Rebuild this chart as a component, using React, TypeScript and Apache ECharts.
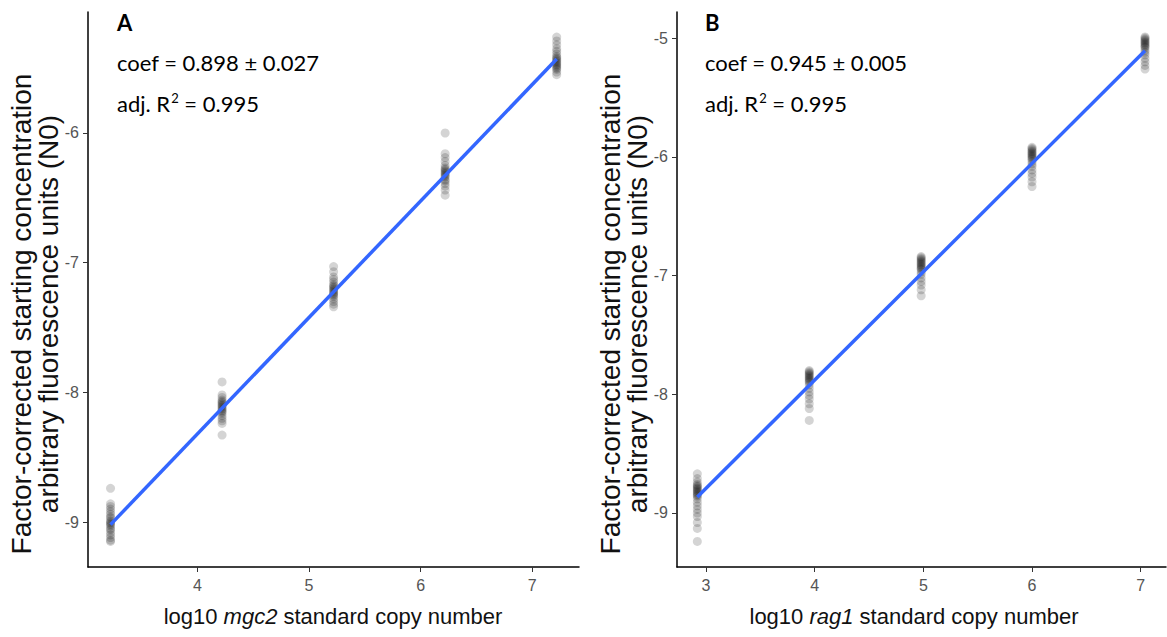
import React, { useEffect, useRef } from "react";
import * as echarts from "echarts";

// Panel A: log10 mgc2 standard copy number
const xA = [3.22, 4.22, 5.22, 6.22, 7.22];
const a1 = [-8.74, -8.86, -8.88, -8.9, -8.92, -8.94, -8.96, -8.97, -8.99, -9.0, -9.01, -9.02, -9.03, -9.05, -9.06, -9.08, -9.1, -9.12, -9.14, -9.15];
const a2 = [-7.92, -8.02, -8.04, -8.06, -8.07, -8.08, -8.09, -8.1, -8.11, -8.12, -8.13, -8.14, -8.15, -8.16, -8.18, -8.2, -8.22, -8.24, -8.33];
const a3 = [-7.03, -7.07, -7.11, -7.13, -7.15, -7.17, -7.18, -7.19, -7.2, -7.21, -7.22, -7.23, -7.24, -7.25, -7.26, -7.28, -7.3, -7.32, -7.34];
const a4 = [-6.0, -6.16, -6.19, -6.22, -6.25, -6.27, -6.28, -6.29, -6.3, -6.31, -6.32, -6.33, -6.34, -6.36, -6.37, -6.39, -6.41, -6.44, -6.48];
const a5 = [-5.26, -5.29, -5.32, -5.35, -5.37, -5.39, -5.41, -5.42, -5.43, -5.44, -5.45, -5.46, -5.47, -5.48, -5.49, -5.5, -5.51, -5.53, -5.55];
const fitA = [[3.22, -9.02], [7.22, -5.43]];

// Panel B: log10 rag1 standard copy number
const xB = [2.92, 3.95, 4.98, 6.0, 7.04];
const b1 = [-8.67, -8.71, -8.74, -8.76, -8.77, -8.78, -8.79, -8.8, -8.81, -8.82, -8.83, -8.84, -8.85, -8.86, -8.88, -8.91, -8.94, -8.97, -9.0, -9.03, -9.08, -9.13, -9.24];
const b2 = [-7.8, -7.81, -7.82, -7.83, -7.84, -7.85, -7.86, -7.87, -7.88, -7.89, -7.9, -7.92, -7.95, -7.98, -8.01, -8.04, -8.08, -8.12, -8.22];
const b3 = [-6.84, -6.85, -6.86, -6.87, -6.88, -6.89, -6.9, -6.91, -6.92, -6.93, -6.94, -6.95, -6.97, -6.99, -7.02, -7.05, -7.08, -7.12, -7.17];
const b4 = [-5.92, -5.93, -5.94, -5.95, -5.96, -5.97, -5.98, -5.99, -6.0, -6.01, -6.02, -6.04, -6.06, -6.08, -6.11, -6.14, -6.17, -6.21, -6.25];
const b5 = [-4.99, -5.0, -5.01, -5.02, -5.03, -5.04, -5.05, -5.06, -5.07, -5.08, -5.1, -5.12, -5.14, -5.17, -5.2, -5.23, -5.26];
const fitB = [[2.92, -8.865], [7.04, -5.107]];

const xTicksA = [4, 5, 6, 7];
const yTicksA = [-9, -8, -7, -6];
const xTicksB = [3, 4, 5, 6, 7];
const yTicksB = [-9, -8, -7, -6, -5];

const yTitle = "Factor-corrected starting concentration\narbitrary fluorescence units (N0)";
const labelsA = { panel: "A", coef: "coef = 0.898 ± 0.027", r2: "0.995", gene: "mgc2" };
const labelsB = { panel: "B", coef: "coef = 0.945 ± 0.005", r2: "0.995", gene: "rag1" };

const AX = "Liberation Sans, Arial, sans-serif";
const ANN = "Lato, Open Sans, sans-serif";

function pts(xs: number[], groups: number[][]) {
  const out: number[][] = [];
  groups.forEach((g, i) => g.forEach((v) => out.push([xs[i], v])));
  return out;
}

function xAxisCfg(grid: number, min: number, max: number, ticks: number[]) {
  return {
    type: "value",
    gridIndex: grid,
    min,
    max,
    splitLine: { show: false },
    axisLine: { show: true, onZero: false, lineStyle: { color: "#000", width: 1.5 } },
    axisTick: { show: true, length: 5, customValues: ticks, lineStyle: { color: "#333", width: 1 } },
    axisLabel: { customValues: ticks, fontSize: 16, color: "#555", margin: 10, fontFamily: AX },
  };
}
function yAxisCfg(grid: number, min: number, max: number, ticks: number[]) {
  return {
    type: "value",
    gridIndex: grid,
    min,
    max,
    splitLine: { show: false },
    axisLine: { show: true, onZero: false, lineStyle: { color: "#000", width: 1.5 } },
    axisTick: { show: true, length: 5, customValues: ticks, lineStyle: { color: "#333", width: 1 } },
    axisLabel: { customValues: ticks, fontSize: 16, color: "#555", margin: 9, fontFamily: AX },
  };
}

function annot(left: number, l: typeof labelsA) {
  return [
    { type: "text", left, top: 11, style: { text: l.panel, font: "bold 22px " + ANN, fill: "#000" } },
    { type: "text", left, top: 51, style: { text: l.coef, font: "22px " + ANN, fill: "#000" } },
    {
      type: "text",
      left,
      top: 86,
      style: {
        text: "{t|adj. R}{s|2}{t| = " + l.r2 + "}",
        fill: "#000",
        rich: {
          t: { fontSize: 22, fontFamily: ANN, lineHeight: 28, verticalAlign: "bottom" },
          s: { fontSize: 13, fontFamily: ANN, lineHeight: 28, verticalAlign: "top", padding: [5, 0, 0, 1] },
        },
      },
    },
  ];
}

function xTitle(cx: number, gene: string) {
  return {
    type: "text",
    x: cx,
    y: 616,
    style: {
      text: "{n|log10 }{i|" + gene + "}{n| standard copy number}",
      align: "center",
      verticalAlign: "middle",
      fill: "#111",
      rich: {
        n: { fontSize: 22, fontFamily: AX, fill: "#111" },
        i: { fontSize: 22, fontFamily: AX, fontStyle: "italic", fill: "#111" },
      },
    },
  };
}

function yTitleEl(cx: number) {
  return {
    type: "text",
    x: cx,
    y: 314,
    rotation: Math.PI / 2,
    style: {
      text: yTitle,
      align: "center",
      verticalAlign: "middle",
      fontSize: 28,
      lineHeight: 27,
      fontFamily: AX,
      fill: "#111",
    },
  };
}

export default function App() {
  const ref = useRef<HTMLDivElement>(null);
  useEffect(() => {
    if (!ref.current) return;
    const chart = echarts.init(ref.current, null, { renderer: "svg" });
    const pointStyle = { color: "rgba(0,0,0,0.21)" };
    chart.setOption({
      animation: false,
      backgroundColor: "#fff",
      grid: [
        { left: 88, top: 12, width: 491, height: 555, containLabel: false, outerBoundsMode: "none" },
        { left: 677, top: 12, width: 489, height: 555, containLabel: false, outerBoundsMode: "none" },
      ],
      xAxis: [xAxisCfg(0, 3.018, 7.42, xTicksA), xAxisCfg(1, 2.733, 7.233, xTicksB)],
      yAxis: [yAxisCfg(0, -9.347, -5.067, yTicksA), yAxisCfg(1, -9.455, -4.78, yTicksB)],
      series: [
        {
          type: "scatter",
          xAxisIndex: 0,
          yAxisIndex: 0,
          symbolSize: 9,
          itemStyle: pointStyle,
          data: pts(xA, [a1, a2, a3, a4, a5]),
          z: 2,
        },
        {
          type: "line",
          xAxisIndex: 0,
          yAxisIndex: 0,
          data: fitA,
          symbol: "none",
          lineStyle: { color: "#3366FF", width: 3.5 },
          z: 3,
        },
        {
          type: "scatter",
          xAxisIndex: 1,
          yAxisIndex: 1,
          symbolSize: 9,
          itemStyle: pointStyle,
          data: pts(xB, [b1, b2, b3, b4, b5]),
          z: 2,
        },
        {
          type: "line",
          xAxisIndex: 1,
          yAxisIndex: 1,
          data: fitB,
          symbol: "none",
          lineStyle: { color: "#3366FF", width: 3.5 },
          z: 3,
        },
      ],
      graphic: [
        ...annot(117, labelsA),
        ...annot(705, labelsB),
        xTitle(333, labelsA.gene),
        xTitle(914, labelsB.gene),
        yTitleEl(35),
        yTitleEl(624),
      ],
    });
    return () => chart.dispose();
  }, []);
  return (
    <div
      ref={ref}
      style={{ position: "fixed", left: 0, top: 0, width: 1167, height: 637, background: "#fff" }}
    />
  );
}
